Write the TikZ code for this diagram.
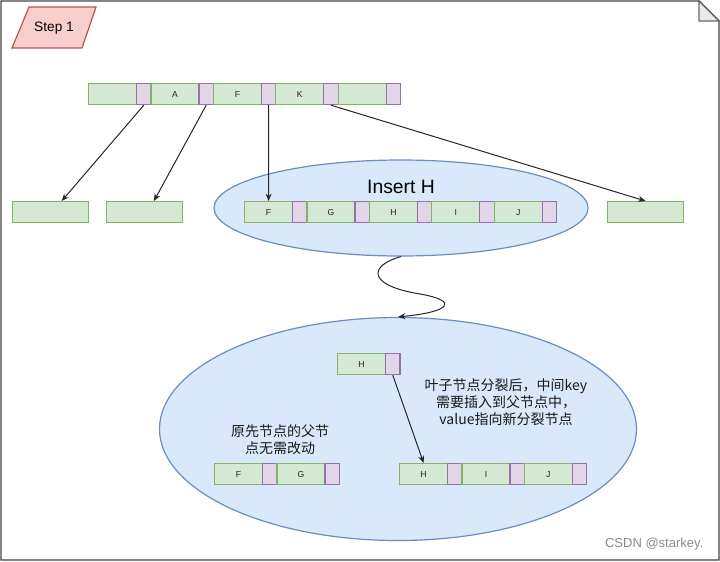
\documentclass[tikz,border=0pt]{standalone}
\usepackage{fontspec}
\setmainfont{Liberation Sans}
\newfontfamily\cjk{Noto Sans CJK SC}
\usetikzlibrary{arrows.meta,shapes.geometric}
\definecolor{gfill}{HTML}{D5E8D4}
\definecolor{gline}{HTML}{82B366}
\definecolor{pfill}{HTML}{E1D5E7}
\definecolor{pline}{HTML}{9673A6}
\definecolor{bfill}{HTML}{DAE8FC}
\definecolor{bline}{HTML}{6C8EBF}
\definecolor{rfill}{HTML}{F8CECC}
\definecolor{rline}{HTML}{B85450}
\definecolor{frame}{HTML}{444444}
\definecolor{wm}{HTML}{8A8A8A}
\tikzset{
  gcell/.style={draw=gline, fill=gfill, line width=0.9pt, minimum width=36pt,
    minimum height=15.75pt, inner sep=0pt, anchor=north west,
    font=\fontsize{6.5}{7}\selectfont, text=black!85},
  pcell/.style={gcell, draw=pline, fill=pfill, minimum width=10.8pt},
  leaf/.style={gcell, minimum width=57pt},
  bubble/.style={ellipse, draw=bline, fill=bfill, line width=0.9pt, inner sep=0pt},
  arr/.style={draw=black!85, line width=0.75pt, -{Stealth[length=5.5pt,width=4.5pt]}},
  note/.style={font=\cjk\fontsize{10.5}{12.75}\selectfont, align=center, text=black!90},
}
\newcommand{\keyrow}[4]{%
  \foreach \lab [count=\i] in {#4} {
    \node[gcell] (#1g\i) at ({#2+(\i-1)*62.4},#3) {\lab};
    \node[pcell] (#1p\i) at ({#2+(\i-1)*62.4+48},#3) {};
  }}
\begin{document}
\begin{tikzpicture}[x=0.75pt,y=-0.75pt]
\useasboundingbox (0,0) rectangle (720,561);
% outer note frame
\draw[frame, line width=1.1pt, fill=white] (1,1) -- (699,1) -- (719,21) -- (719,560) -- (1,560) -- cycle;
\draw[frame!80, line width=1pt, fill=black!8] (699,1) -- (699,21) -- (719,21) -- cycle;
% step label
\draw[rline, fill=rfill, line width=0.9pt] (29,7) -- (96,7) -- (82,48) -- (12,48) -- cycle;
\node[font=\fontsize{10.25}{12}\selectfont] (step) at (54,28) {Step 1};
% top row
\keyrow{t}{88}{83}{ ,A,F,K, }
% leaves
\node[leaf] (lf1) at (12,201) {};
\node[leaf] (lf2) at (106,201) {};
\node[leaf] (lf3) at (607,201) {};
% middle bubble
\node[bubble, minimum width=280.5pt, minimum height=72pt] (e1) at (401,208) {};
\node[font=\fontsize{14.5}{16}\selectfont] (ins) at (401,187) {Insert H};
\keyrow{m}{244}{201}{F,G,H,I,J}
% arrows from top row
\draw[arr] (tp1.south) -- (lf1.45);
\draw[arr] (tp2.south) -- (lf2.50);
\draw[arr] (tp3.south) -- (mg1.north);
\draw[arr] (tp4.south) -- (lf3.north);
% bottom bubble
\node[bubble, minimum width=357.75pt, minimum height=167.25pt] (e2) at (398,429) {};
\draw[arr] (e1.south) .. controls (370,265) and (365,285) .. (420,294)
  .. controls (460,301) and (450,312) .. (e2.north);
\keyrow{s}{337}{353}{H}
\keyrow{l}{214}{463}{F,G}
\keyrow{r}{399}{463}{H,I,J}
\draw[arr] (sp1.south) -- (rg1.north);
\node[note] (n1) at (280,440) {原先节点的父节\\点无需改动};
\node[note] (n2) at (506,402) {叶子节点分裂后，中间key\\需要插入到父节点中，\\value指向新分裂节点};
\node[anchor=east, text=wm, font=\fontsize{9.75}{11}\selectfont] (wmk) at (708,544) {CSDN @starkey.};
\end{tikzpicture}
\end{document}
